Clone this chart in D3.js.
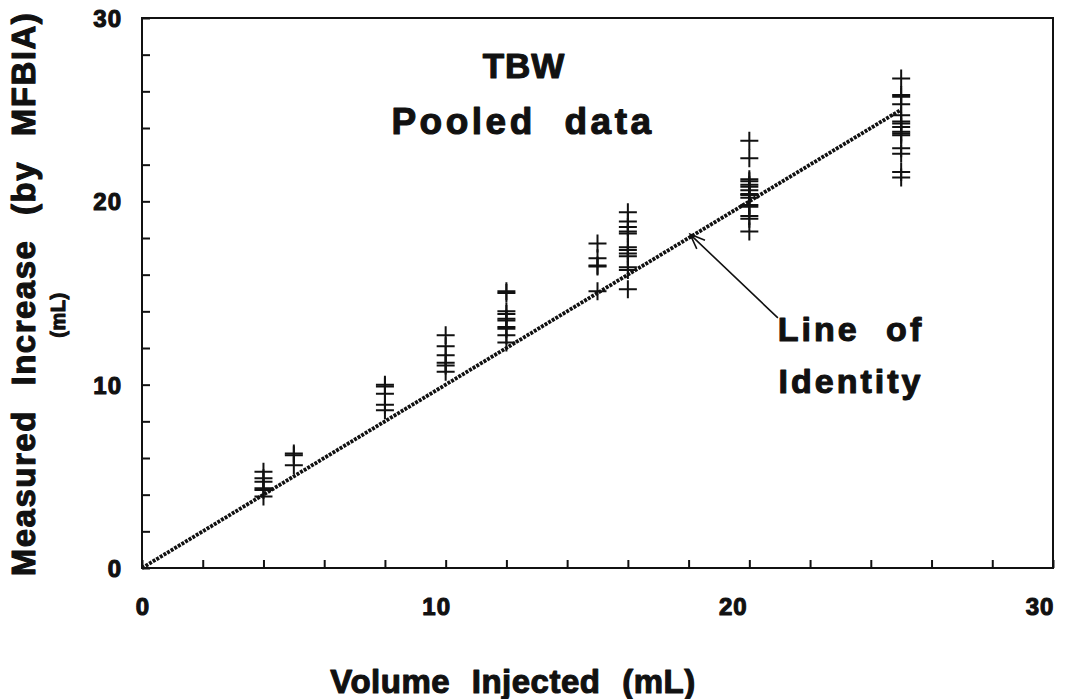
<!DOCTYPE html>
<html>
<head>
<meta charset="utf-8">
<script src="https://cdn.jsdelivr.net/npm/d3@7"></script>
<style>
  html, body { margin: 0; padding: 0; background: #fff; }
  svg { display: block; }
  text {
    font-family: "Liberation Sans", Arial, Helvetica, sans-serif; font-weight: bold;
    fill: #111; stroke: #111; stroke-width: 1.1px; stroke-linejoin: round;
  }
</style>
</head>
<body>
<svg id="chart" width="1076" height="699"></svg>
<script>
// Volumes injected (mL) and the increases measured by MFBIA at each volume
const volumes = [4, 5, 8, 10, 12, 15, 16, 20, 25];
const measured = [
  [5.25, 4.9, 4.7, 4.35, 4.25, 3.9],
  [6.25, 6.15, 5.6],
  [10.0, 9.9, 9.5, 8.9, 8.6],
  [12.7, 12.1, 11.6, 11.2, 11.05, 10.7],
  [15.1, 15.0, 14.0, 13.85, 13.6, 13.5, 13.15, 13.05, 12.7, 12.3],
  [17.7, 16.9, 16.5, 16.45, 15.1],
  [19.4, 18.9, 18.6, 18.35, 18.25, 17.5, 17.35, 17.15, 17.0, 16.4, 16.25, 15.2],
  [23.3, 22.35, 21.2, 21.1, 20.9, 20.8, 20.6, 20.4, 20.35, 20.2, 19.8, 19.7, 19.2, 19.05, 18.35],
  [26.7, 25.8, 25.7, 25.3, 24.7, 24.35, 24.25, 24.05, 23.8, 23.7, 23.6, 22.9, 22.6, 21.6, 21.3]
];
const majorTicks = [0, 10, 20, 30];
const minorTicks = d3.range(0, 31, 2);
const identityLine = [0, 25];

const svg = d3.select("#chart");
const plotLeft = 142, plotRight = 1053, plotTop = 18, plotBottom = 568;

const x = d3.scaleLinear().domain([0, 30]).range([plotLeft, plotRight]);
const y = d3.scaleLinear().domain([0, 30]).range([plotBottom, plotTop]);

// frame
svg.append("rect")
  .attr("x", plotLeft).attr("y", plotTop)
  .attr("width", plotRight - plotLeft).attr("height", plotBottom - plotTop)
  .attr("fill", "none").attr("stroke", "#111").attr("stroke-width", 2);

// inward ticks on the bottom and left axes
const xAxis = d3.axisBottom(x).tickValues(minorTicks).tickSizeInner(-8).tickSizeOuter(0).tickFormat("");
const gx = svg.append("g").attr("transform", `translate(0,${plotBottom})`).call(xAxis);
const yAxis = d3.axisLeft(y).tickValues(minorTicks).tickSizeInner(-8).tickSizeOuter(0).tickFormat("");
const gy = svg.append("g").attr("transform", `translate(${plotLeft},0)`).call(yAxis);
[gx, gy].forEach(g => {
  g.select(".domain").remove();
  g.selectAll(".tick line").attr("stroke", "#111").attr("stroke-width", 2);
});

// tick labels
const xLabelShift = { 0: 1, 10: -9, 20: -16, 30: -13 };
svg.append("g").selectAll("text").data(majorTicks).join("text")
  .attr("x", d => x(d) + xLabelShift[d])
  .attr("y", 615)
  .attr("text-anchor", "middle")
  .attr("font-size", 24)
  .attr("letter-spacing", 1)
  .text(d => d);
svg.append("g").selectAll("text").data(majorTicks).join("text")
  .attr("x", 122)
  .attr("y", d => y(d) + 9)
  .attr("text-anchor", "end")
  .attr("font-size", 24)
  .attr("letter-spacing", 1)
  .text(d => d);

// line of identity
svg.append("line")
  .attr("x1", x(identityLine[0])).attr("y1", y(identityLine[0]))
  .attr("x2", x(identityLine[1])).attr("y2", y(identityLine[1]))
  .attr("stroke", "#111").attr("stroke-width", 3.8)
  .attr("stroke-dasharray", "3,1.2");

// data crosses
const pts = [];
volumes.forEach((v, i) => measured[i].forEach(m => pts.push([v, m])));
const half = 9;
svg.append("g").selectAll("path").data(pts).join("path")
  .attr("d", d => {
    const cx = x(d[0]), cy = y(d[1]);
    return `M${cx - half},${cy}H${cx + half}M${cx},${cy - half}V${cy + half}`;
  })
  .attr("stroke", "#111").attr("stroke-width", 2).attr("fill", "none");

// arrow pointing at the identity line
const tail = [20.94, 13.64], tip = [18.05, 18.2];
const tx = x(tip[0]), ty = y(tip[1]), sx = x(tail[0]), sy = y(tail[1]);
const ang = Math.atan2(sy - ty, sx - tx);
const hl = 16, spread = 0.38;
svg.append("path")
  .attr("d", `M${sx},${sy}L${tx},${ty}` +
    `M${tx + hl * Math.cos(ang - spread)},${ty + hl * Math.sin(ang - spread)}L${tx},${ty}` +
    `L${tx + hl * Math.cos(ang + spread)},${ty + hl * Math.sin(ang + spread)}`)
  .attr("stroke", "#111").attr("stroke-width", 1.6).attr("fill", "none");

// annotations
svg.append("text").attr("x", 851).attr("y", 341).attr("text-anchor", "middle")
  .attr("font-size", 34).attr("letter-spacing", 3).attr("word-spacing", 14).text("Line of");
svg.append("text").attr("x", 851).attr("y", 393).attr("text-anchor", "middle")
  .attr("font-size", 34).attr("letter-spacing", 3).text("Identity");

// title
svg.append("text").attr("x", 524).attr("y", 78).attr("text-anchor", "middle")
  .attr("font-size", 35).attr("letter-spacing", 1).text("TBW");
svg.append("text").attr("x", 523).attr("y", 134).attr("text-anchor", "middle")
  .attr("font-size", 37).attr("letter-spacing", 3.5).attr("word-spacing", 15).text("Pooled data");

// axis titles
svg.append("text").attr("x", 513).attr("y", 693).attr("text-anchor", "middle")
  .attr("font-size", 33).attr("letter-spacing", 0.5).attr("word-spacing", 12).text("Volume Injected (mL)");
svg.append("text")
  .attr("transform", "translate(35,294) rotate(-90)")
  .attr("text-anchor", "middle")
  .attr("font-size", 33).attr("letter-spacing", 1.5).attr("word-spacing", 14).text("Measured Increase (by MFBIA)");
svg.append("text")
  .attr("transform", "translate(65,315) rotate(-90)")
  .attr("text-anchor", "middle")
  .attr("font-size", 20).attr("letter-spacing", 0.5).text("(mL)");
</script>
</body>
</html>
